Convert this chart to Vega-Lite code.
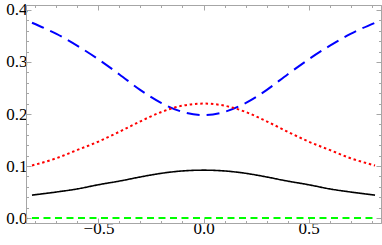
{
  "$schema": "https://vega.github.io/schema/vega-lite/v6.json",
  "width": 355,
  "height": 218,
  "autosize": {"type": "none"},
  "padding": {"left": 26, "top": 5, "right": 1, "bottom": 22},
  "config": {
    "font": "Liberation Serif",
    "view": {"stroke": "#a6a6a6", "strokeWidth": 1},
    "axis": {
      "domainColor": "#a6a6a6",
      "tickColor": "#a6a6a6",
      "grid": false,
      "labelFont": "Liberation Serif",
      "labelFontSize": 17,
      "labelColor": "#000000",
      "labelOverlap": false,
      "labelFlush": false,
      "title": null
    }
  },
  "data": {
    "values": [
      {"s": "blue", "x": -0.8165, "y": 0.3755},
      {"s": "blue", "x": -0.7, "y": 0.354},
      {"s": "blue", "x": -0.6, "y": 0.331},
      {"s": "blue", "x": -0.5, "y": 0.305},
      {"s": "blue", "x": -0.4, "y": 0.276},
      {"s": "blue", "x": -0.3, "y": 0.246},
      {"s": "blue", "x": -0.2, "y": 0.221},
      {"s": "blue", "x": -0.1, "y": 0.204},
      {"s": "blue", "x": 0, "y": 0.198},
      {"s": "blue", "x": 0.1, "y": 0.204},
      {"s": "blue", "x": 0.2, "y": 0.221},
      {"s": "blue", "x": 0.3, "y": 0.246},
      {"s": "blue", "x": 0.4, "y": 0.276},
      {"s": "blue", "x": 0.5, "y": 0.305},
      {"s": "blue", "x": 0.6, "y": 0.331},
      {"s": "blue", "x": 0.7, "y": 0.354},
      {"s": "blue", "x": 0.8165, "y": 0.3755},
      {"s": "red", "x": -0.8165, "y": 0.101},
      {"s": "red", "x": -0.7, "y": 0.115},
      {"s": "red", "x": -0.6, "y": 0.131},
      {"s": "red", "x": -0.5, "y": 0.147},
      {"s": "red", "x": -0.4, "y": 0.166},
      {"s": "red", "x": -0.3, "y": 0.186},
      {"s": "red", "x": -0.2, "y": 0.204},
      {"s": "red", "x": -0.1, "y": 0.216},
      {"s": "red", "x": 0, "y": 0.22},
      {"s": "red", "x": 0.1, "y": 0.216},
      {"s": "red", "x": 0.2, "y": 0.204},
      {"s": "red", "x": 0.3, "y": 0.186},
      {"s": "red", "x": 0.4, "y": 0.166},
      {"s": "red", "x": 0.5, "y": 0.147},
      {"s": "red", "x": 0.6, "y": 0.131},
      {"s": "red", "x": 0.7, "y": 0.115},
      {"s": "red", "x": 0.8165, "y": 0.101},
      {"s": "black", "x": -0.8165, "y": 0.044},
      {"s": "black", "x": -0.7, "y": 0.05},
      {"s": "black", "x": -0.6, "y": 0.056},
      {"s": "black", "x": -0.5, "y": 0.064},
      {"s": "black", "x": -0.4, "y": 0.071},
      {"s": "black", "x": -0.3, "y": 0.079},
      {"s": "black", "x": -0.2, "y": 0.086},
      {"s": "black", "x": -0.1, "y": 0.0905},
      {"s": "black", "x": 0, "y": 0.092},
      {"s": "black", "x": 0.1, "y": 0.0905},
      {"s": "black", "x": 0.2, "y": 0.086},
      {"s": "black", "x": 0.3, "y": 0.079},
      {"s": "black", "x": 0.4, "y": 0.071},
      {"s": "black", "x": 0.5, "y": 0.064},
      {"s": "black", "x": 0.6, "y": 0.056},
      {"s": "black", "x": 0.7, "y": 0.05},
      {"s": "black", "x": 0.8165, "y": 0.044},
      {"s": "green", "x": -0.8165, "y": 0},
      {"s": "green", "x": 0.8165, "y": 0}
    ]
  },
  "layer": [
    {
      "mark": {"type": "line", "interpolate": "monotone", "clip": true},
      "encoding": {
        "x": {
          "field": "x", "type": "quantitative",
          "scale": {"domain": [-0.845, 0.845], "nice": false, "zero": false},
          "axis": {
            "orient": "bottom",
            "values": [-0.8, -0.7, -0.6, -0.5, -0.4, -0.3, -0.2, -0.1, 0, 0.1, 0.2, 0.3, 0.4, 0.5, 0.6, 0.7, 0.8],
            "format": ".1f",
            "labelFont": "Liberation Serif",
            "labelFontSize": 17,
            "labelExpr": "(datum.value == 0 || abs(datum.value) == 0.5) ? datum.label : ''",
            "tickSize": {"condition": {"test": "datum.value == 0 || abs(datum.value) == 0.5", "value": -5}, "value": -2.5},
            "labelPadding": 2
          }
        },
        "y": {
          "field": "y", "type": "quantitative",
          "scale": {"domain": [-0.0096, 0.4096], "nice": false, "zero": false},
          "axis": {
            "orient": "left",
            "values": [0, 0.02, 0.04, 0.06, 0.08, 0.1, 0.12, 0.14, 0.16, 0.18, 0.2, 0.22, 0.24, 0.26, 0.28, 0.3, 0.32, 0.34, 0.36, 0.38, 0.4],
            "format": ".1f",
            "labelFont": "Liberation Serif",
            "labelFontSize": 17,
            "labelExpr": "abs(datum.value*10 - round(datum.value*10)) < 1e-6 ? datum.label : ''",
            "tickSize": {"condition": {"test": "abs(datum.value*10 - round(datum.value*10)) < 1e-6", "value": -5}, "value": -2.5},
            "labelPadding": 4
          }
        },
        "color": {
          "field": "s", "type": "nominal", "legend": null,
          "scale": {"domain": ["blue", "red", "black", "green"], "range": ["#0000ff", "#ff0000", "#000000", "#00ff00"]}
        },
        "strokeDash": {
          "field": "s", "type": "nominal", "legend": null,
          "scale": {"domain": ["blue", "red", "black", "green"], "range": [[13, 7], [2.5, 2.8], [1, 0], [7, 4.5]]}
        },
        "strokeWidth": {
          "field": "s", "type": "nominal", "legend": null,
          "scale": {"type": "ordinal", "domain": ["blue", "red", "black", "green"], "range": [2, 2, 1.6, 2]}
        }
      }
    },
    {
      "mark": {"type": "line", "opacity": 0},
      "encoding": {
        "x": {
          "field": "x", "type": "quantitative",
          "axis": {
            "orient": "top",
            "values": [-0.8, -0.7, -0.6, -0.5, -0.4, -0.3, -0.2, -0.1, 0, 0.1, 0.2, 0.3, 0.4, 0.5, 0.6, 0.7, 0.8],
            "labels": false,
            "tickSize": {"condition": {"test": "datum.value == 0 || abs(datum.value) == 0.5", "value": -5}, "value": -2.5}
          }
        },
        "y": {
          "field": "y", "type": "quantitative",
          "axis": {
            "orient": "right",
            "values": [0, 0.02, 0.04, 0.06, 0.08, 0.1, 0.12, 0.14, 0.16, 0.18, 0.2, 0.22, 0.24, 0.26, 0.28, 0.3, 0.32, 0.34, 0.36, 0.38, 0.4],
            "labels": false,
            "tickSize": {"condition": {"test": "abs(datum.value*10 - round(datum.value*10)) < 1e-6", "value": -5}, "value": -2.5}
          }
        },
        "detail": {"field": "s"}
      }
    }
  ],
  "resolve": {"axis": {"x": "independent", "y": "independent"}}
}
